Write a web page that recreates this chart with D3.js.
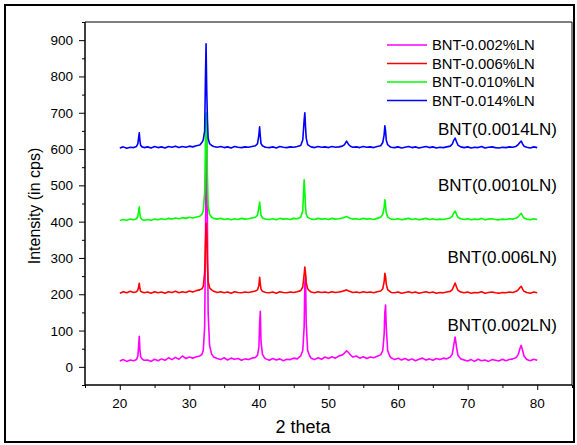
<!DOCTYPE html>
<html><head><meta charset="utf-8">
<script src="https://cdn.jsdelivr.net/npm/d3@7"></script>
<style>body{margin:0;background:#fff;} svg{display:block;font-family:Arial,"Liberation Sans",sans-serif;}</style>
</head><body>
<svg id="c" width="577" height="445"></svg>
<script>
// 2-theta sample positions (shared by all series)
const twoTheta = [
 20.0,20.5,21.0,21.5,22.0,22.4,22.6,22.7,22.8,22.9,23.0,23.2,23.5,
 24.0,24.5,25.0,25.5,26.0,26.5,27.0,27.5,28.0,28.5,29.0,29.5,30.0,30.5,31.0,31.5,
 31.8,32.0,32.2,32.3,32.4,32.5,32.6,32.7,32.9,33.2,33.5,
 34.0,34.5,35.0,35.5,36.0,36.5,37.0,37.5,38.0,38.5,39.0,39.5,
 39.8,40.0,40.1,40.2,40.3,40.5,40.8,41.0,
 41.5,42.0,42.5,43.0,43.5,44.0,44.5,45.0,45.5,46.0,
 46.3,46.5,46.6,46.7,46.8,47.0,47.3,47.5,
 48.0,48.5,49.0,49.5,50.0,50.5,51.0,51.5,52.0,52.3,52.6,52.9,53.2,53.5,54.0,54.5,55.0,55.5,56.0,56.5,57.0,57.5,
 57.8,58.0,58.1,58.2,58.3,58.5,58.8,59.0,
 59.5,60.0,60.5,61.0,61.5,62.0,62.5,63.0,63.5,64.0,64.5,65.0,65.5,66.0,66.5,67.0,67.5,
 67.8,68.0,68.2,68.4,68.6,69.0,
 69.5,70.0,70.5,71.0,71.5,72.0,72.5,73.0,73.5,74.0,74.5,75.0,75.5,76.0,76.5,77.0,
 77.3,77.5,77.7,77.9,78.1,78.5,79.0,79.5,80.0
];
const bnt0002 = [
 16,20,15,19,17,20,30,55,84,45,28,22,18,
 19,15,21,17,22,18,25,20,26,21,30,23,27,24,28,30,
 34,45,110,300,560,640,380,150,60,35,27,
 23,20,25,19,24,21,23,18,22,20,24,26,
 32,55,120,153,70,35,25,22,
 18,23,19,22,17,21,20,24,22,30,
 45,110,230,250,120,45,30,24,
 20,25,21,27,23,28,24,30,33,38,44,39,32,27,30,24,28,23,27,25,29,33,
 45,90,150,170,110,45,30,25,
 20,24,19,23,18,22,17,21,24,19,22,18,23,20,24,22,27,
 35,60,82,55,32,22,
 19,16,20,15,21,17,19,15,20,18,16,21,17,20,22,26,
 35,50,59,45,30,20,17,21,18
];
const bnt0006 = [
 203,207,204,208,205,207,212,220,230,215,208,206,204,
 206,203,207,204,206,203,207,205,208,204,207,205,209,206,210,212,
 215,222,260,330,396,360,280,235,218,212,208,
 205,207,204,206,203,207,205,204,206,205,207,209,
 212,225,247,228,214,208,206,205,
 204,206,203,207,205,204,206,205,207,210,
 220,255,275,258,232,215,209,206,
 204,207,205,206,204,207,205,206,208,210,212,209,207,205,206,204,207,205,206,204,207,209,
 215,235,258,250,228,213,208,205,
 204,206,203,205,207,204,206,203,205,207,204,206,203,205,204,206,208,
 213,222,231,220,211,206,
 204,206,203,205,204,207,203,205,206,204,203,205,204,206,205,208,
 213,218,222,214,208,205,203,206,204
];
const bnt0010 = [
 403,406,404,407,405,408,415,428,441,420,410,406,404,
 406,404,407,405,408,406,409,407,410,408,411,409,412,410,413,415,
 420,430,480,600,700,640,520,445,420,412,409,
 407,409,406,408,405,408,406,409,407,408,410,412,
 418,440,454,435,418,410,408,407,
 406,408,405,409,407,408,406,409,408,412,
 430,515,480,440,420,412,409,407,
 406,409,407,408,406,409,407,408,410,412,414,411,409,407,408,406,409,407,408,406,409,412,
 420,440,460,445,425,413,409,407,
 406,408,405,407,409,406,408,405,407,409,406,408,405,407,406,408,410,
 415,424,429,420,412,408,
 406,408,405,407,406,409,405,407,408,406,405,407,406,408,407,410,
 414,419,423,416,410,407,405,408,406
];
const bnt0014 = [
 603,606,602,605,604,607,615,630,645,622,610,606,604,
 606,603,607,604,606,603,607,605,608,604,607,605,608,606,609,611,
 618,625,650,780,890,760,680,630,615,610,607,
 605,607,604,606,603,607,605,604,606,605,607,609,
 615,640,661,635,615,609,606,605,
 604,606,603,607,605,604,606,605,607,610,
 625,680,700,660,630,612,608,606,
 604,607,605,606,604,607,605,606,608,612,622,612,607,605,606,604,607,605,606,604,607,609,
 618,640,664,650,625,612,607,605,
 604,606,603,605,607,604,606,603,605,607,604,606,603,605,604,606,608,
 614,624,630,620,611,606,
 604,606,603,605,604,607,603,605,606,604,603,605,604,606,605,608,
 613,618,622,614,608,605,603,606,604
];
const seriesNames = ["BNT-0.002%LN","BNT-0.006%LN","BNT-0.010%LN","BNT-0.014%LN"];
const seriesColors = ["#ff00ff","#ff0000","#00ff00","#0000ff"];
const annotations = ["BNT(0.002LN)","BNT(0.006LN)","BNT(0.0010LN)","BNT(0.0014LN)"];
const xTicks = [20,30,40,50,60,70,80];
const yTicks = [0,100,200,300,400,500,600,700,800,900];

const svg = d3.select("#c");
const L = 85, R = 572, T = 22, B = 385;
const x = d3.scaleLinear().domain([15,85]).range([L,R]);
const y = d3.scaleLinear().domain([-50,950]).range([B,T]);

// outer frame
svg.append("rect").attr("x",5).attr("y",5).attr("width",569).attr("height",437)
  .attr("fill","none").attr("stroke","#000").attr("stroke-width",2);
// plot box top/right
svg.append("path").attr("d",`M${L},${T}H${R}V${B}`).attr("fill","none").attr("stroke","#000").attr("stroke-width",1);

// series
const allSeries = [bnt0002,bnt0006,bnt0010,bnt0014];
const line = d3.line().x(d=>x(d[0])).y(d=>y(d[1]));
allSeries.forEach((vals,i)=>{
  const pts = twoTheta.map((t,j)=>[t,vals[j]]);
  svg.append("path").datum(pts).attr("d",line).attr("fill","none")
    .attr("stroke",seriesColors[i]).attr("stroke-width",1.6).attr("stroke-linejoin","round");
});

// axes
const gx = svg.append("g").attr("transform",`translate(0,${B})`);
gx.call(d3.axisBottom(x).tickValues(d3.range(15,86,5)).tickSize(3).tickFormat(""));
gx.call(g=>g.selectAll(".tick").filter(d=>d%10===0).select("line").attr("y2",5));
gx.append("g").selectAll("text").data(xTicks).join("text")
  .attr("x",d=>x(d)).attr("y",23).attr("text-anchor","middle").attr("fill","#000")
  .attr("font-size",13.5).text(d=>d);
const gy = svg.append("g").attr("transform",`translate(${L},0)`);
gy.call(d3.axisLeft(y).tickValues(d3.range(-50,951,50)).tickSize(3).tickFormat(""));
gy.call(g=>g.selectAll(".tick").filter(d=>d%100===0).select("line").attr("x2",-6));
gy.append("g").selectAll("text").data(yTicks).join("text")
  .attr("x",-12).attr("y",d=>y(d)+5).attr("text-anchor","end").attr("fill","#000")
  .attr("font-size",13.5).text(d=>d);
gx.select(".domain").attr("stroke-width",1.5).attr("d",`M${L},0H${R}`);
gy.select(".domain").attr("stroke-width",1.5).attr("d",`M0,${T}V${B}`);

// axis titles
svg.append("text").attr("x",303).attr("y",433).attr("text-anchor","middle").attr("font-size",18).text("2 theta");
svg.append("text").attr("transform","translate(40,206) rotate(-90)").attr("text-anchor","middle").attr("font-size",16).text("Intensity (in cps)");

// legend
const leg = svg.append("g");
seriesNames.forEach((n,i)=>{
  const yy = 45 + i*18.5;
  leg.append("line").attr("x1",387).attr("x2",427).attr("y1",yy).attr("y2",yy)
    .attr("stroke",seriesColors[i]).attr("stroke-width",1.5);
  leg.append("text").attr("x",432).attr("y",yy+5).attr("font-size",14.8).text(n);
});

// annotations
const annY = [331,263,191,135];
annotations.forEach((a,i)=>{
  svg.append("text").attr("x",557).attr("y",annY[i]).attr("text-anchor","end").attr("font-size",17).text(a);
});
</script>
</body></html>
